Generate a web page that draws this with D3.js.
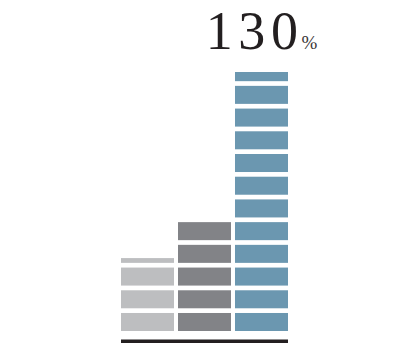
<!DOCTYPE html>
<html><head><meta charset="utf-8">
<script src="https://cdn.jsdelivr.net/npm/d3@7"></script>
<style>html,body{margin:0;padding:0;background:#fff;overflow:hidden}</style>
</head><body>
<svg id="c" width="393" height="343"></svg>
<script>
const categories = ["A", "B", "C"];
const values = [36.6, 54.7, 130];
const colors = ["#bdbec0", "#828387", "#6b97b0"];
const blockUnit = 11.4;
const labelValue = "130";
const labelUnit = "%";

const svg = d3.select("#c");
const x = d3.scaleBand().domain(categories).range([121, 288]).paddingInner(0.07).paddingOuter(0);
const y = d3.scaleLinear().domain([0, 130]).range([331, 72]);
const gap = 4.7;

categories.forEach((c, k) => {
  const v = values[k];
  const blocks = [];
  for (let i = 0; i * blockUnit < v; i++) {
    const bottom = y(i * blockUnit);
    const top = Math.max(y((i + 1) * blockUnit) + gap, y(v));
    if (bottom - top > 0.5) blocks.push({bottom, top});
  }
  svg.append("g").selectAll("rect").data(blocks).join("rect")
    .attr("x", x(c)).attr("width", x.bandwidth())
    .attr("y", d => d.top).attr("height", d => d.bottom - d.top)
    .attr("fill", colors[k]);
});

svg.append("rect").attr("x", 121).attr("width", 288 - 121)
  .attr("y", 339.5).attr("height", 5).attr("fill", "#231f20");

const t = svg.append("text").attr("x", 205.7).attr("y", 49.3)
  .attr("font-family", "Liberation Serif, serif").attr("fill", "#231f20")
  .attr("font-size", 54);
labelValue.split("").forEach((ch, i) => {
  t.append("tspan").attr("dx", i === 0 ? 0 : 5.6).text(ch);
});
svg.append("text").attr("x", 301.5).attr("y", 49.3)
  .attr("font-family", "Liberation Serif, serif").attr("fill", "#3a3637")
  .attr("font-size", 19).text(labelUnit);
</script>
</body></html>
